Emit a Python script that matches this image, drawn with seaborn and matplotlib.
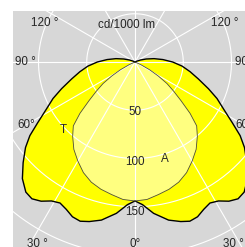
import matplotlib
matplotlib.use("Agg")
import matplotlib.pyplot as plt
import seaborn as sns
import pandas as pd
import numpy as np

# luminous intensity, cd/1000 lm, angle measured from the downward vertical
t_angles = [0, 3, 7, 12, 16, 19, 22, 25, 28, 31, 34, 37, 40, 44, 48, 52, 55, 58,
            62, 66, 70, 75, 80, 85, 90, 95, 100, 105, 110, 115, 120]
t_values = [144, 148, 158, 167.5, 172, 174.5, 173, 168.5, 165.5, 168, 174, 177.5,
            176, 168, 156, 144, 133, 119, 104, 93, 81, 68, 58, 49, 39, 29, 20,
            12, 6, 2, 0]

a_angles = [0, 5, 10, 15, 20, 25, 30, 35, 40, 44, 47, 50, 53, 56, 59, 62, 65, 68]
a_values = [144, 143, 139.5, 136.5, 132.5, 126.5, 118.5, 110.5, 100.5, 92, 78,
            62, 50, 40, 28, 17, 7, 0]

ring_values = [50, 100, 150, 200]
ring_labels = ["50", "100", "150"]
angle_ticks = [0, 30, 60, 90, 120]
angle_labels = ["0°", "30 °", "60°", "90 °", "120 °"]


def polar_curve(angles, values):
    # mirror the half-curve so that the full, symmetric outline is closed
    ang = np.radians(np.concatenate([-np.array(angles[::-1]), np.array(angles[1:])]))
    r = np.concatenate([np.array(values[::-1]), np.array(values[1:])])
    return pd.DataFrame({"x": r * np.sin(ang), "y": -r * np.cos(ang)})


sns.set_style("white")
plt.rcParams['font.family'] = ['Liberation Sans', 'DejaVu Sans']

W, H = 245, 247
s = 0.965            # pixels per cd/1000 lm
cx, cy = 135, 62     # centre of the diagram in pixels

fig = plt.figure(figsize=(W / 100, H / 100), dpi=100)
ax = fig.add_axes([13 / W, (H - 257) / H, 244 / W, 246 / H])
ax.set_xlim(-(cx - 13) / s, (257 - cx) / s)
ax.set_ylim(-(257 - cy) / s, (cy - 11) / s)
ax.set_facecolor("#d7d7d7")
for sp in ax.spines.values():
    sp.set_visible(False)
ax.set_xticks([])
ax.set_yticks([])


def px(x, y):
    return (x - cx) / s, (cy - y) / s


t_df = polar_curve(t_angles, t_values)
a_df = polar_curve(a_angles, a_values)

ax.fill(t_df["x"], t_df["y"], color="#ffff00", zorder=1, lw=0)
ax.fill(a_df["x"], a_df["y"], color="#ffff80", zorder=2, lw=0)

# white polar grid
th = np.linspace(0, 2 * np.pi, 400)
for r in ring_values:
    ax.plot(r * np.cos(th), r * np.sin(th), color="white", lw=0.8, zorder=3)
for a in range(0, 360, 30):
    rad = np.radians(a)
    ax.plot([0, 400 * np.sin(rad)], [0, -400 * np.cos(rad)], color="white",
            lw=0.8, zorder=3)

sns.lineplot(data=t_df, x="x", y="y", sort=False, estimator=None, ax=ax,
             color="black", lw=1.0, zorder=4)
sns.lineplot(data=a_df, x="x", y="y", sort=False, estimator=None, ax=ax,
             color="#4d4d3a", lw=0.6, zorder=4)
ax.set_xlabel("")
ax.set_ylabel("")

fs = 8.4
for r, lab in zip(ring_values, ring_labels):
    ax.text(0, -r / s, lab, ha="center", va="center", fontsize=fs, zorder=5)

left_pos = {0: (135, 244), 30: (37, 244), 60: (26, 125), 90: (25, 62), 120: (45, 23)}
for a, lab in zip(angle_ticks, angle_labels):
    x, y = left_pos[a]
    ax.text(*px(x, y), lab, ha="center", va="center", fontsize=fs, zorder=5)
    if a != 0:
        ax.text(*px(2 * cx - x, y), lab, ha="center", va="center", fontsize=fs,
                zorder=5)

ax.text(*px(127, 25), "cd/1000 lm", ha="center", va="center", fontsize=fs, zorder=5)
ax.text(*px(63, 130), "T", ha="center", va="center", fontsize=fs, zorder=5)
ax.text(*px(165, 159), "A", ha="center", va="center", fontsize=fs, zorder=5)

fig.savefig("out.png", dpi=100)
